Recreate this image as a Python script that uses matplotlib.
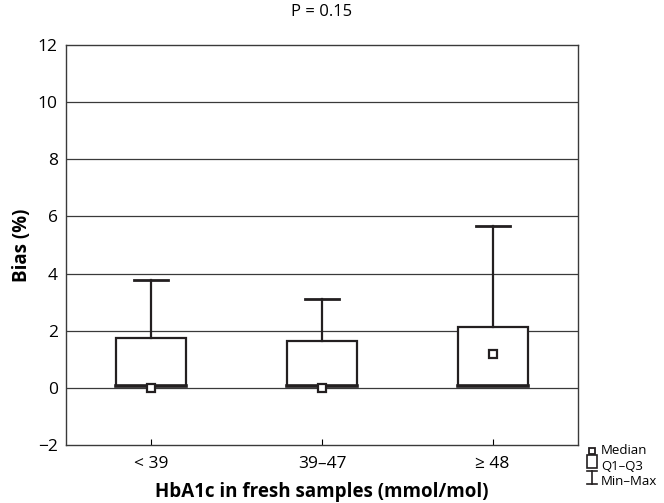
import matplotlib
matplotlib.use("Agg")
import matplotlib.pyplot as plt
from matplotlib.patches import Rectangle
from matplotlib.lines import Line2D

plt.rcParams['font.family'] = ['Open Sans', 'DejaVu Sans']

# data
groups = ["< 39", "39\u201347", "\u2265 48"]
q1 = [0.07, 0.07, 0.07]
q3 = [1.75, 1.65, 2.12]
vmax = [3.78, 3.12, 5.65]
medians = [0.0, 0.0, 1.2]
yticks = [-2, 0, 2, 4, 6, 8, 10, 12]

fig = plt.figure(figsize=(6.64, 5.03), dpi=100)
ax = fig.add_axes([0.0994, 0.1153, 0.7711, 0.7952])

for t in yticks[1:-1]:
    ax.axhline(t, color='#3a3a3a', lw=0.9, zorder=1)

box_w = 0.41
cap_w = 0.2
for i in range(len(groups)):
    xc = i + 1
    ax.add_patch(Rectangle((xc - box_w / 2, q1[i]), box_w, q3[i] - q1[i],
                           facecolor='white', edgecolor='#231f20', lw=1.6, zorder=3))
    ax.plot([xc - box_w / 2, xc + box_w / 2], [q1[i], q1[i]], color='#231f20', lw=2.6, zorder=4)
    ax.plot([xc, xc], [q3[i], vmax[i]], color='#231f20', lw=1.6, zorder=3)
    ax.plot([xc - cap_w / 2, xc + cap_w / 2], [vmax[i], vmax[i]], color='#231f20', lw=2.0, zorder=3)
    ax.plot(xc, medians[i], marker='s', ms=6, mfc='white', mec='#231f20', mew=1.6, zorder=5)

ax.set_xlim(0.5, 3.5)
ax.set_ylim(-2, 12)
ax.set_yticks(yticks)
ax.set_yticklabels([str(t).replace('-', '\u2212') for t in yticks])
ax.set_xticks([1, 2, 3])
ax.set_xticklabels(groups)
ax.tick_params(axis='y', length=0, labelsize=12.5, pad=6)
ax.tick_params(axis='x', length=4, direction='in', labelsize=12.5, pad=8)
for s in ax.spines.values():
    s.set_color('#3a3a3a')
    s.set_linewidth(1.0)

ax.set_ylabel("Bias (%)", fontsize=13.5, fontweight='bold', labelpad=4)
ax.set_xlabel("HbA1c in fresh samples (mmol/mol)", fontsize=13.5, fontweight='bold', labelpad=7)
ax.set_title("P = 0.15", fontsize=12, pad=21)

# legend drawn by hand
fig.add_artist(Line2D([0.8915], [0.1034], marker='s', ms=4.5, mfc='white', mec='#231f20',
                      mew=1.3, transform=fig.transFigure))
fig.add_artist(Rectangle((0.8845, 0.0695), 0.014, 0.0255, facecolor='white', edgecolor='#231f20',
                         lw=1.2, transform=fig.transFigure))
fig.add_artist(Line2D([0.8915, 0.8915], [0.0385, 0.064], color='#231f20', lw=1.2, transform=fig.transFigure))
fig.add_artist(Line2D([0.8845, 0.8985], [0.064, 0.064], color='#231f20', lw=1.2, transform=fig.transFigure))
fig.add_artist(Line2D([0.8845, 0.8985], [0.0385, 0.0385], color='#231f20', lw=1.2, transform=fig.transFigure))
fig.text(0.905, 0.1034, "Median", fontsize=9.5, va='center')
fig.text(0.905, 0.073, "Q1\u2013Q3", fontsize=9.5, va='center')
fig.text(0.905, 0.043, "Min\u2013Max", fontsize=9.5, va='center')

fig.savefig("out.png", dpi=100)
